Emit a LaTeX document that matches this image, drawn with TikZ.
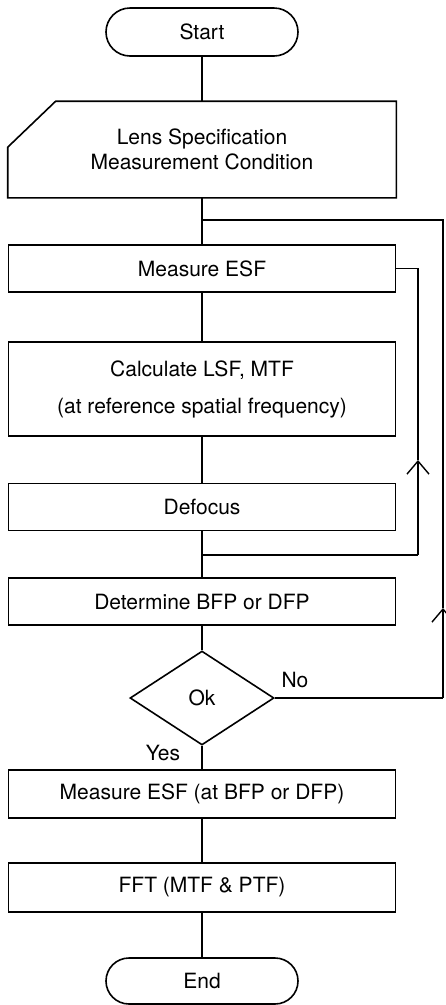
\documentclass[tikz,border=0pt]{standalone}
\usepackage{fontspec}
\setmainfont{TeX Gyre Heros}
\usetikzlibrary{shapes.misc,shapes.geometric,arrows.meta}
\begin{document}
\begin{tikzpicture}[x=1pt,y=-1pt,line width=1.6pt,font=\fontsize{21}{25}\selectfont,
    procbox/.style={draw,rectangle,minimum width=387pt,minimum height=47pt,inner sep=0pt},
    termbox/.style={draw,rounded rectangle,minimum width=192pt,minimum height=48pt,inner sep=0pt},
    barb/.style={-{Straight Barb[length=13pt,width=22pt,line width=1.4pt]}}]
        \useasboundingbox (0,0) rectangle (445,1005);
        \node[termbox] (start) at (202,32) {Start};
        \node[minimum width=387pt,minimum height=95pt,inner sep=0pt,align=center] (spec) at (202,149.5) {Lens Specification\\Measurement Condition};
        \draw ([xshift=48pt]spec.north west) -- (spec.north east) -- (spec.south east) -- (spec.south west) -- ([yshift=-46pt]spec.north west) -- cycle;
        \node[procbox] (meas) at (202,268.5) {Measure ESF};
        \node[procbox,minimum height=94pt,align=center] (calc) at (202,389) {Calculate LSF, MTF\\[12pt](at reference spatial frequency)};
        \node[procbox] (defoc) at (202,507) {Defocus};
        \node[procbox] (deter) at (202,601.5) {Determine BFP or DFP};
        \node[draw,diamond,minimum width=144pt,minimum height=94pt,inner sep=0pt] (ok) at (202,698) {Ok};
        \node (no) at (295,680) {No};  \node (yes) at (163,753) {Yes};
        \node[procbox,minimum height=48pt] (measbfp) at (202,794) {Measure ESF (at BFP or DFP)};
        \node[procbox,minimum height=49pt] (fft) at (202,887.5) {FFT (MTF \& PTF)};
        \node[termbox,minimum height=46pt] (end) at (202,981) {End};
        \coordinate (j1) at (202,220);  \coordinate (j2) at (202,555);
        \coordinate (nob) at (443,698);  \coordinate (noa) at (443,608);  \coordinate (not) at (443,220);
        \coordinate (lpb) at (418,555);  \coordinate (lpa) at (418,460);  \coordinate (lpt) at (418,268.5);
        \draw (start) -- (spec); \draw (spec) -- (meas); \draw (meas) -- (calc); \draw (calc) -- (defoc); \draw (defoc) -- (deter);
        \draw (deter) -- (ok); \draw (ok) -- (measbfp); \draw (measbfp) -- (fft); \draw (fft) -- (end);
        \draw (j2) -- (lpb); \draw [barb] (lpb) -- (lpa); \draw (lpa) -- (lpt) -- (meas.east);
        \draw (ok.east) -- (nob); \draw [barb] (nob) -- (noa); \draw (noa) -- (not) -- (j1);
    \end{tikzpicture}
\end{document}
